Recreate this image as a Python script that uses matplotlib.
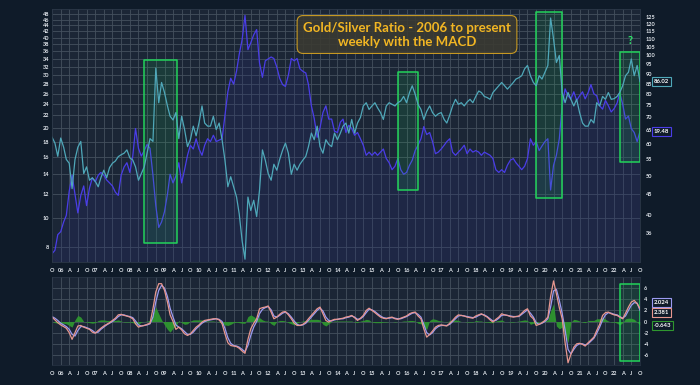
import numpy as np
import pandas as pd
import matplotlib
matplotlib.use("Agg")
import matplotlib.pyplot as plt
import matplotlib.dates as mdates
import matplotlib.transforms as mtransforms
from matplotlib.patches import Rectangle
from matplotlib.ticker import FixedLocator, FixedFormatter, NullLocator

plt.rcParams['font.family'] = ['Lato', 'DejaVu Sans']
plt.rcParams['font.weight'] = 'bold'
plt.rcParams['axes.unicode_minus'] = False

# monthly samples, Oct 2005 .. Oct 2022
dates = pd.date_range('2005-10-01', periods=205, freq='MS')

silver = [7.6, 7.8, 8.8,
          9.0, 9.7, 10.2, 12.3, 13.9, 12.0, 10.4, 11.9, 12.8, 11.0, 12.6, 13.6,
          13.2, 13.9, 14.2, 13.9, 13.4, 13.1, 12.8, 12.2, 11.9, 13.9, 14.8, 15.3,
          14.2, 16.1, 19.9, 17.1, 16.1, 16.8, 17.6, 17.1, 13.9, 11.0, 9.3, 9.7,
          10.5, 12.0, 14.0, 13.1, 13.8, 15.3, 13.1, 14.5, 16.2, 17.5, 17.0, 18.4,
          17.0, 16.2, 17.5, 18.4, 18.0, 18.9, 18.0, 18.2, 18.4, 22.0, 26.4, 29.3,
          28.0, 31.0, 35.2, 39.5, 47.5, 36.5, 38.5, 40.9, 42.6, 33.0, 29.5, 33.5,
          34.0, 34.5, 34.1, 31.9, 29.3, 27.9, 27.5, 30.0, 34.1, 33.5, 34.1, 31.5,
          30.9, 30.5, 27.9, 23.7, 21.5, 18.6, 20.0, 22.5, 23.7, 21.4, 21.4, 19.5,
          19.3, 20.9, 21.4, 19.3, 20.4, 19.9, 18.9, 19.3, 18.4, 17.5, 16.2, 16.6,
          16.2, 16.6, 16.2, 16.6, 17.0, 15.8, 15.3, 14.5, 14.9, 15.8, 14.5, 14.0,
          14.2, 15.0, 15.6, 16.8, 17.5, 18.4, 20.2, 19.0, 19.3, 18.0, 16.4, 16.6,
          17.0, 17.5, 18.0, 18.4, 16.6, 16.2, 16.6, 17.0, 17.5, 16.4, 17.0, 16.6,
          16.8, 16.6, 16.2, 16.6, 16.4, 16.2, 15.8, 14.5, 14.2, 14.5, 14.2, 15.0,
          15.6, 15.8, 15.3, 14.9, 14.5, 14.9, 15.8, 18.4, 17.5, 18.0, 16.8, 17.4,
          18.0, 18.4, 12.4, 15.0, 16.2, 18.4, 23.7, 27.0, 25.6, 25.0, 26.4, 24.7,
          25.6, 26.4, 25.0, 26.2, 27.9, 26.0, 25.6, 23.7, 23.1, 24.7, 23.7, 22.6,
          23.2, 24.2, 26.2, 24.0, 21.4, 21.9, 19.9, 19.3, 18.0, 19.48]

ratio = [62.5, 60.4, 56.0,
         62.2, 59.0, 55.0, 53.8, 46.5, 55.0, 59.0, 61.0, 50.7, 52.7, 48.8, 49.5,
         48.5, 47.0, 49.5, 51.7, 49.5, 52.5, 53.8, 54.5, 55.9, 56.5, 57.0, 58.1,
         55.5, 54.8, 52.7, 48.8, 50.7, 52.7, 57.0, 62.0, 61.0, 93.0, 76.2, 85.6,
         80.8, 74.8, 70.5, 69.0, 72.0, 62.0, 70.5, 65.3, 59.2, 61.6, 66.6, 63.0,
         68.0, 74.8, 67.8, 66.6, 66.6, 70.5, 65.3, 67.8, 61.6, 54.8, 47.0, 49.8,
         47.0, 44.3, 40.2, 34.4, 31.0, 44.3, 41.0, 43.5, 39.6, 46.0, 58.1, 54.8,
         50.7, 48.8, 53.5, 51.7, 55.0, 58.0, 60.4, 57.0, 50.5, 53.5, 51.7, 53.5,
         54.8, 56.0, 59.2, 64.0, 61.6, 66.6, 59.2, 57.0, 61.6, 60.0, 59.2, 64.0,
         61.6, 64.0, 66.6, 67.8, 64.0, 69.2, 64.0, 67.8, 70.0, 74.8, 76.2, 73.3,
         74.8, 76.2, 74.0, 72.0, 69.2, 74.8, 76.2, 75.5, 74.8, 76.2, 77.0, 79.0,
         76.2, 80.8, 84.0, 80.0, 75.5, 73.3, 69.2, 72.5, 74.8, 72.0, 70.5, 71.5,
         72.0, 69.2, 67.8, 71.0, 74.8, 77.7, 75.5, 76.2, 74.8, 76.5, 77.7, 76.2,
         79.0, 81.5, 80.8, 79.0, 78.5, 77.7, 80.8, 82.4, 84.0, 85.6, 84.0, 82.4,
         84.0, 85.6, 87.3, 88.0, 89.0, 92.6, 94.4, 89.0, 85.6, 84.0, 89.0, 87.3,
         90.8, 94.4, 124.0, 110.0, 96.0, 100.0, 80.8, 76.2, 80.8, 77.7, 74.8, 77.7,
         72.0, 67.8, 66.6, 66.6, 69.2, 67.8, 76.2, 74.8, 79.0, 77.7, 80.8, 77.7,
         78.0, 79.0, 80.8, 84.0, 89.0, 90.8, 98.0, 89.0, 94.4, 86.02]

macd = [0.8, 0.3, -0.2,
        -0.6, -0.9, -1.2, -2.0, -3.2, -2.0, -0.8, -0.7, -1.0, -1.2, -1.4, -1.9,
        -2.1, -1.6, -1.2, -0.8, -0.5, -0.2, 0.2, 0.6, 1.2, 1.3, 1.1, 1.0,
        0.8, 0.5, -0.4, -1.0, -0.8, -0.7, -0.5, -0.3, 2.3, 5.3, 6.8, 6.8,
        5.6, 3.5, 1.2, 0.0, -1.4, -1.0, -1.5, -2.2, -2.5, -2.2, -1.6, -1.0,
        -0.6, -0.1, 0.2, 0.3, 0.4, 0.5, 0.5, 0.3, -0.4, -2.2, -3.8, -4.3,
        -4.4, -4.5, -4.8, -5.3, -5.7, -3.2, -1.3, -0.3, 0.5, 2.3, 2.5, 2.6,
        2.8, 1.7, 0.5, 0.8, 1.3, 1.7, 1.8, 1.2, 0.5, -0.3, -0.7, -0.7,
        -0.5, -0.1, 0.5, 1.1, 1.7, 2.3, 2.6, 1.4, 0.2, -0.1, 0.2, 0.4,
        0.4, 0.5, 0.6, 0.8, 0.9, 1.1, 0.7, 0.2, 0.6, 1.1, 2.0, 2.4,
        2.0, 1.6, 1.2, 0.8, 0.6, 0.5, 0.7, 0.8, 0.5, 0.4, 0.6, 0.8,
        1.0, 1.4, 1.6, 1.7, 1.0, 0.5, -1.3, -2.8, -2.3, -1.7, -1.0, -0.7,
        -0.6, -0.7, -0.8, -0.3, 0.2, 0.8, 1.2, 1.1, 1.0, 0.8, 0.7, 0.6,
        1.0, 1.2, 1.4, 1.1, 0.8, 0.3, -0.1, 0.4, 0.8, 1.4, 1.2, 1.1,
        0.9, 0.8, 0.9, 1.0, 1.5, 2.0, 2.3, 1.0, 0.5, -0.7, -0.5, -0.2,
        0.2, 0.8, 4.5, 7.3, 5.0, 2.5, 0.5, -3.8, -7.4, -5.9, -4.6, -4.0,
        -3.9, -4.1, -4.4, -3.8, -3.3, -2.8, -1.6, -0.5, 1.1, 1.6, 1.7, 1.4,
        1.2, 1.1, 0.8, 0.5, 1.5, 2.6, 3.5, 3.8, 3.2, 2.381]

signal = [0.9, 0.6, 0.2,
          -0.3, -0.6, -0.9, -1.4, -2.3, -2.6, -1.6, -0.9, -0.9, -1.1, -1.3, -1.6,
          -2.0, -1.9, -1.4, -1.0, -0.6, -0.3, 0.0, 0.4, 0.9, 1.2, 1.2, 1.0,
          0.9, 0.7, 0.1, -0.6, -0.8, -0.7, -0.6, -0.4, 0.8, 3.5, 5.6, 6.5,
          6.0, 4.5, 2.4, 0.8, -0.6, -1.0, -1.3, -1.8, -2.3, -2.3, -1.9, -1.3,
          -0.8, -0.3, 0.0, 0.2, 0.3, 0.4, 0.5, 0.4, 0.0, -1.2, -2.9, -3.9,
          -4.3, -4.4, -4.6, -5.0, -5.4, -4.3, -2.5, -1.0, 0.0, 1.4, 2.2, 2.5,
          2.7, 2.1, 1.0, 0.8, 1.1, 1.5, 1.7, 1.4, 0.8, 0.1, -0.5, -0.7,
          -0.6, -0.3, 0.2, 0.8, 1.4, 2.0, 2.4, 1.9, 0.8, 0.2, 0.1, 0.3,
          0.4, 0.5, 0.5, 0.7, 0.8, 1.0, 0.8, 0.4, 0.5, 0.9, 1.6, 2.2,
          2.1, 1.8, 1.4, 1.0, 0.7, 0.6, 0.6, 0.7, 0.6, 0.5, 0.5, 0.7,
          0.9, 1.2, 1.5, 1.6, 1.3, 0.8, -0.5, -2.0, -2.4, -2.0, -1.3, -0.9,
          -0.7, -0.7, -0.7, -0.5, 0.0, 0.5, 1.0, 1.1, 1.0, 0.9, 0.8, 0.7,
          0.8, 1.1, 1.3, 1.2, 0.9, 0.5, 0.1, 0.2, 0.6, 1.1, 1.2, 1.1,
          1.0, 0.9, 0.9, 0.9, 1.3, 1.7, 2.1, 1.5, 0.8, -0.2, -0.5, -0.3,
          0.0, 0.5, 2.6, 5.5, 5.8, 3.8, 1.5, -1.5, -5.0, -5.8, -5.0, -4.3,
          -4.0, -4.0, -4.2, -4.0, -3.5, -3.0, -2.1, -1.0, 0.3, 1.2, 1.6, 1.5,
          1.3, 1.2, 0.9, 0.6, 1.0, 2.0, 2.9, 3.4, 3.3, 2.024]

hist = [0.0, -0.2, -0.3,
        -0.3, -0.3, -0.4, -0.7, -1.0, 0.3, 1.1, 0.8, 0.0, -0.1, -0.2, -0.3,
        -0.2, 0.2, 0.3, 0.3, 0.2, 0.2, 0.2, 0.2, 0.3, 0.1, -0.1, -0.1,
        -0.1, -0.2, -0.4, -0.5, -0.1, 0.0, 0.1, 0.2, 1.4, 2.6, 1.4, 0.3,
        -0.6, -1.4, -1.9, -1.2, -0.8, 0.2, -0.2, -0.5, -0.4, 0.1, 0.3, 0.3,
        0.3, 0.3, 0.2, 0.1, 0.1, 0.1, 0.0, -0.1, -0.3, -0.6, -0.7, -0.5,
        -0.2, -0.1, -0.2, -0.3, -0.3, 0.9, 1.2, 0.9, 0.5, 0.7, 0.3, 0.1,
        0.1, -0.4, -0.7, 0.0, 0.2, 0.2, 0.1, -0.2, -0.4, -0.6, -0.3, 0.0,
        0.1, 0.2, 0.3, 0.4, 0.4, 0.4, 0.3, -0.5, -0.8, -0.4, 0.0, 0.1,
        0.1, 0.1, 0.1, 0.1, 0.1, 0.1, -0.1, -0.2, 0.1, 0.2, 0.4, 0.3,
        -0.1, -0.2, -0.2, -0.2, -0.1, -0.1, 0.0, 0.0, -0.1, 0.0, 0.0, 0.1,
        0.1, 0.2, 0.2, 0.1, -0.3, -0.4, -0.9, -1.4, 0.2, 0.5, 0.4, 0.2,
        0.1, 0.0, -0.1, 0.2, 0.2, 0.3, 0.2, 0.0, 0.0, -0.1, -0.1, -0.1,
        0.2, 0.1, 0.1, -0.1, -0.1, -0.2, -0.2, 0.1, 0.2, 0.3, 0.0, 0.0,
        -0.1, -0.1, 0.0, 0.1, 0.2, 0.3, 0.2, -0.5, -0.3, -0.5, 0.0, 0.1,
        0.2, 0.3, 1.9, 3.2, -0.8, -1.3, -1.0, -2.3, -3.8, -0.1, 0.4, 0.3,
        0.1, -0.1, -0.2, 0.2, 0.2, 0.2, 0.5, 0.5, 0.8, 0.4, 0.1, -0.1,
        -0.1, -0.3, -0.6, -0.2, 0.5, 0.6, 0.6, 0.4, -0.1, -0.643]

silver_ticks = [8, 10, 12, 14, 16, 18, 20, 22, 24, 26, 28, 30, 32, 34, 36, 38, 40, 42, 44, 46, 48]
ratio_ticks = [36, 40, 45, 50, 55, 60, 65, 70, 75, 80, 85, 90, 95, 100, 105, 110, 115, 120, 125]
macd_ticks = [-6, -4, -2, 0, 2, 4, 6]

# highlight boxes: start, end, bottom/top as fraction of the panel
boxes_top = [('2008-05-28', '2009-05-16', 0.075, 0.798),
             ('2015-10-04', '2016-05-01', 0.285, 0.752),
             ('2019-10-04', '2020-07-01', 0.254, 0.989),
             ('2022-03-01', '2022-09-28', 0.396, 0.831)]
boxes_macd = [('2022-03-01', '2022-09-28', 0.045, 0.917)]

BG = '#0f1b29'
PANEL = '#1b2636'
GRID = '#44505e'
TXT = '#e4e9ef'
SILVER_C = '#4a3de8'
RATIO_C = '#4fa8b9'
MACD_C = '#e8978f'
SIG_C = '#9c9bf2'
HIST_C = '#2f972f'
BOX_C = '#22d35a'

quarters = pd.date_range('2005-10-01', '2022-10-01', freq='3MS')
qnames = {1: None, 4: 'A', 7: 'J', 10: 'O'}
qlabels = [('%02d' % (d.year % 100)) if d.month == 1 else qnames[d.month] for d in quarters]

fig = plt.figure(figsize=(7, 3.85), dpi=100, facecolor=BG)
ax = fig.add_axes([52/700, 123/385, 588/700, 253/385])
axm = fig.add_axes([52/700, 20/385, 588/700, 88/385], sharex=ax)
ax2 = ax.twinx()

for a in (ax, axm):
    a.set_facecolor(PANEL)
for a in (ax, ax2, axm):
    for s in a.spines.values():
        s.set_color('#2a3646')
        s.set_linewidth(0.5)

# silver price (left, log)
ax.fill_between(dates, silver, 7.13, color='#282d78', alpha=0.24, lw=0)
ax.plot(dates, silver, color=SILVER_C, lw=0.9)
ax.set_yscale('log')
ax.set_ylim(7.13, 49.9)
ax.yaxis.set_major_locator(FixedLocator(silver_ticks))
ax.yaxis.set_major_formatter(FixedFormatter([str(t) for t in silver_ticks]))
ax.yaxis.set_minor_locator(NullLocator())
ax.grid(True, color=GRID, lw=0.6)
ax.set_axisbelow(True)

# gold/silver ratio (right, log)
ax2.plot(dates, ratio, color=RATIO_C, lw=0.9)
ax2.set_yscale('log')
ax2.set_ylim(30.5, 130.6)
ax2.yaxis.set_major_locator(FixedLocator(ratio_ticks))
ax2.yaxis.set_major_formatter(FixedFormatter([str(t) for t in ratio_ticks]))
ax2.yaxis.set_minor_locator(NullLocator())

# MACD panel
axm.fill_between(dates, hist, 0, color=HIST_C, alpha=0.95, lw=0)
axm.plot(dates, signal, color=SIG_C, lw=0.9)
axm.plot(dates, macd, color=MACD_C, lw=0.9)
axm.set_ylim(-7.8, 8)
axm.set_yticks(macd_ticks)
axm.yaxis.tick_right()
axm.grid(True, color=GRID, lw=0.6)
axm.set_axisbelow(True)

ax.set_xlim(dates[0], dates[-1])
ax.set_xticks(quarters)
ax.set_xticklabels(qlabels)

ax.tick_params(axis='y', length=0, labelsize=4, labelcolor=TXT, pad=2)
ax2.tick_params(axis='y', length=0, labelsize=4, labelcolor=TXT, pad=4)
axm.tick_params(axis='y', length=0, labelsize=4, labelcolor=TXT, pad=3)
for a in (ax, axm):
    a.tick_params(axis='x', length=0, labelsize=4, labelcolor=TXT, pad=4)
    a.xaxis.set_tick_params(labelbottom=True)

# green highlight boxes
tr_top = mtransforms.blended_transform_factory(ax2.transData, ax2.transAxes)
for x0, x1, y0, y1 in boxes_top:
    d0, d1 = mdates.date2num(pd.Timestamp(x0)), mdates.date2num(pd.Timestamp(x1))
    ax2.add_patch(Rectangle((d0, y0), d1 - d0, y1 - y0, transform=tr_top,
                            fc=BOX_C, alpha=0.12, ec='none'))
    ax2.add_patch(Rectangle((d0, y0), d1 - d0, y1 - y0, transform=tr_top,
                            fc='none', ec=BOX_C, lw=1.1, joinstyle='round'))
tr_m = mtransforms.blended_transform_factory(axm.transData, axm.transAxes)
for x0, x1, y0, y1 in boxes_macd:
    d0, d1 = mdates.date2num(pd.Timestamp(x0)), mdates.date2num(pd.Timestamp(x1))
    axm.add_patch(Rectangle((d0, y0), d1 - d0, y1 - y0, transform=tr_m,
                            fc=BOX_C, alpha=0.12, ec='none'))
    axm.add_patch(Rectangle((d0, y0), d1 - d0, y1 - y0, transform=tr_m,
                            fc='none', ec=BOX_C, lw=1.1, joinstyle='round'))
ax2.text(mdates.date2num(pd.Timestamp('2022-06-15')), 0.877, '?', transform=tr_top,
         ha='center', va='center', color='#2ee86a', fontsize=8, fontweight='bold')

# last-value tags
def tag(a, yval, text, color):
    tr = mtransforms.blended_transform_factory(a.transAxes, a.transData)
    a.text(1.023, yval, text, transform=tr, ha='left', va='center', fontsize=4.3,
           color='white', fontweight='bold', clip_on=False,
           bbox=dict(boxstyle='square,pad=0.3', fc=BG, ec=color, lw=0.8))

tag(ax2, ratio[-1], '86.02', RATIO_C)
tag(ax, silver[-1], '19.48', SILVER_C)
tag(axm, 3.45, '2.024', SIG_C)
tag(axm, 1.6, '2.381', MACD_C)
tag(axm, -0.7, '-0.643', HIST_C)

fig.text(407/700, 1 - 34.5/385, 'Gold/Silver Ratio - 2006 to present\nweekly with the MACD',
         ha='center', va='center', color='#f2b623', fontsize=9.5, fontweight='bold',
         linespacing=1.2,
         bbox=dict(boxstyle='round,pad=0.45', fc='#3a3a32', ec='#d9a520', lw=0.8, alpha=0.9))

fig.savefig('out.png', dpi=100, facecolor=BG)
